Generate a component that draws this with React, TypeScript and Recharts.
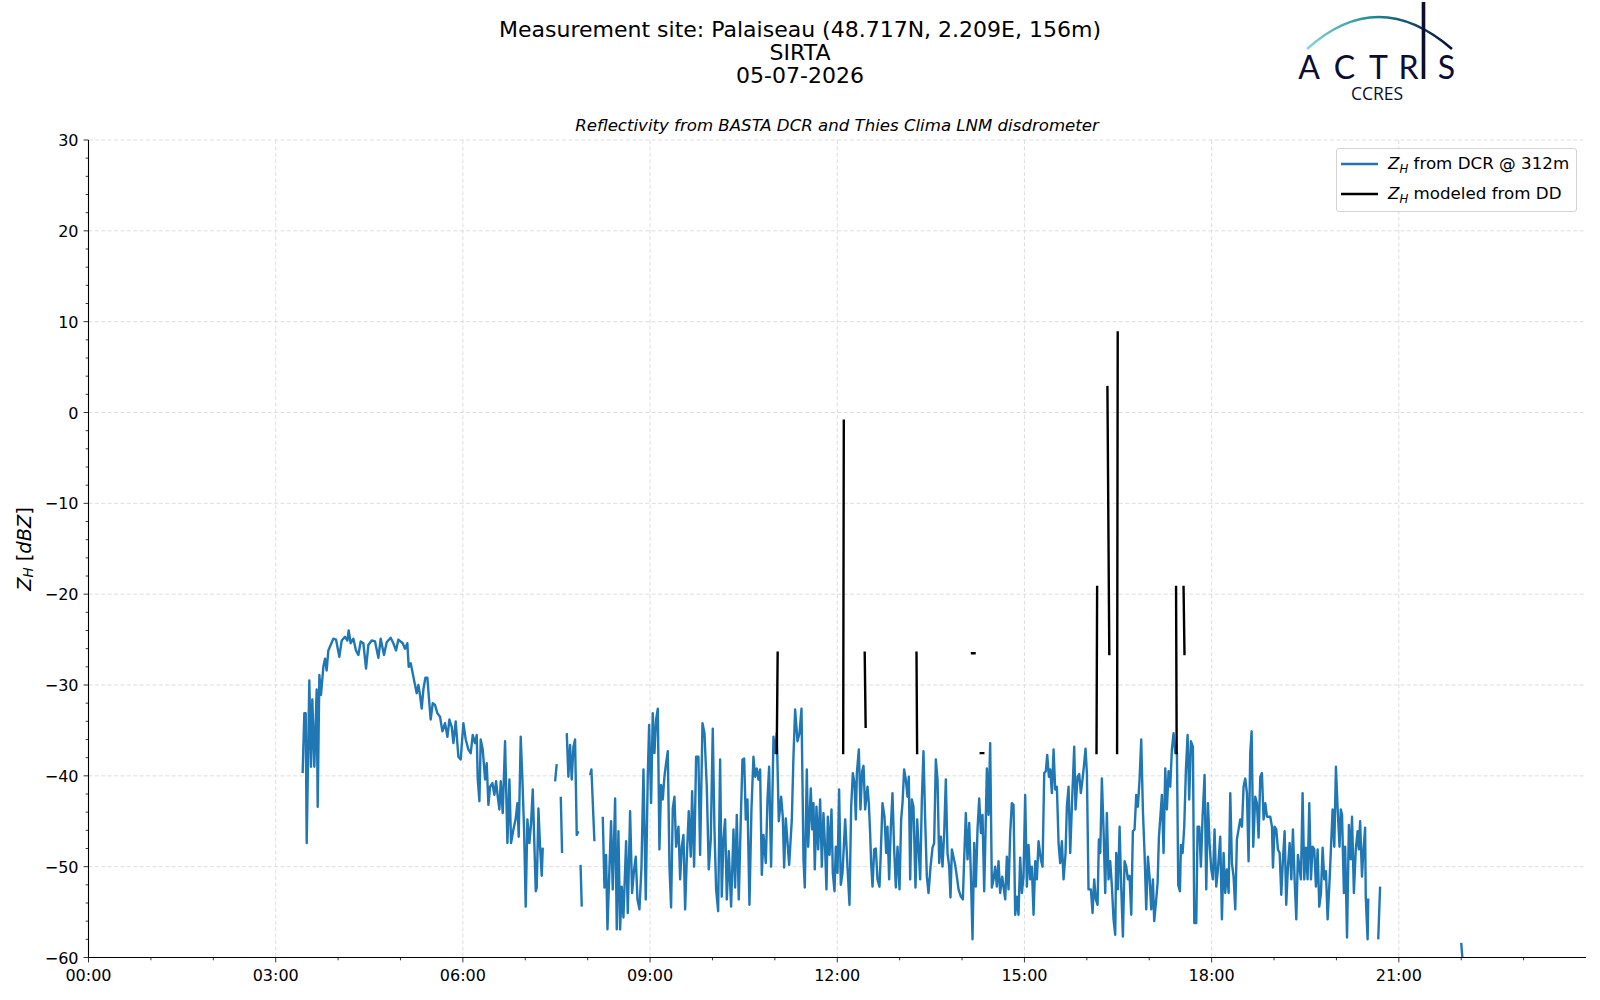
import React from "react";
import { LineChart, Line, XAxis, YAxis, CartesianGrid, Legend } from "recharts";

const FONT = "'DejaVu Sans', sans-serif";
const BLUE = "#1f77b4";
const NAVY = "#0b0d33";

const titleLines = ["Measurement site: Palaiseau (48.717N, 2.209E, 156m)", "SIRTA", "05-07-2026"];
const subtitle = "Reflectivity from BASTA DCR and Thies Clima LNM disdrometer";

const xMajorTicks = [0, 3, 6, 9, 12, 15, 18, 21];
const xTickLabels = ["00:00", "03:00", "06:00", "09:00", "12:00", "15:00", "18:00", "21:00"];
const xMinorTicks = [1, 2, 4, 5, 7, 8, 10, 11, 13, 14, 16, 17, 19, 20, 22, 23];
const yMajorTicks = [-60, -50, -40, -30, -20, -10, 0, 10, 20, 30];
const yMinorTicks = [
  -58, -56, -54, -52, -48, -46, -44, -42, -38, -36, -34, -32, -28, -26, -24, -22, -18, -16,
  -14, -12, -8, -6, -4, -2, 2, 4, 6, 8, 12, 14, 16, 18, 22, 24, 26, 28,
];

const legendLabels = ["from DCR @ 312m", "modeled from DD"];
const legendColors = [BLUE, "#000000"];

// BASTA cloud radar, 312 m gate (hours UTC, dBZ); null = no data
const dcrHour = [
  3.432, 3.459, 3.481, 3.497, 3.539, 3.566, 3.587, 3.619, 3.657, 3.673,
  3.7, 3.726, 3.764, 3.791, 3.817, 3.844, 3.881, 3.924, 3.967, 4.02,
  4.058, 4.111, 4.149, 4.17, 4.202, 4.245, 4.287, 4.325, 4.362, 4.405,
  4.448, 4.485, 4.539, 4.592, 4.646, 4.683, 4.736, 4.779, 4.843, 4.886,
  4.929, 4.966, 5.036, 5.073, 5.11, 5.132, 5.164, 5.196, 5.233, 5.26,
  5.287, 5.313, 5.34, 5.367, 5.399, 5.431, 5.458, 5.484, 5.517, 5.554,
  5.591, 5.634, 5.672, 5.714, 5.752, 5.784, 5.821, 5.848, 5.885, 5.928,
  5.965, 6.008, 6.046, 6.088, 6.126, 6.158, 6.195, 6.222, 6.238, 6.265,
  6.286, 6.318, 6.356, 6.382, 6.409, 6.436, 6.473, 6.505, 6.532, 6.559,
  6.585, 6.607, 6.639, 6.676, 6.714, 6.746, 6.772, 6.81, 6.847, 6.874,
  6.895, 6.927, 6.954, 6.981, 7.007, 7.034, 7.066, 7.093, 7.12, 7.168,
  7.184, 7.211, 7.237, 7.264, 7.28, 7.38, 7.478, 7.504, 7.54, 7.569,
  7.59, 7.63, 7.665, 7.691, 7.718, 7.745, 7.772, 7.798, 7.825, 7.852,
  7.87, 7.886, 7.905, 7.95, 8.039, 8.06, 8.108, 8.17, 8.242, 8.269,
  8.295, 8.317, 8.343, 8.375, 8.402, 8.44, 8.466, 8.493, 8.52, 8.546,
  8.573, 8.616, 8.643, 8.68, 8.712, 8.744, 8.771, 8.798, 8.83, 8.862,
  8.894, 8.931, 8.963, 8.985, 9.017, 9.043, 9.07, 9.097, 9.124, 9.15,
  9.177, 9.204, 9.23, 9.257, 9.284, 9.311, 9.337, 9.364, 9.391, 9.417,
  9.455, 9.482, 9.508, 9.535, 9.562, 9.588, 9.62, 9.652, 9.674, 9.706,
  9.738, 9.775, 9.802, 9.84, 9.872, 9.909, 9.941, 9.973, 10.005, 10.032,
  10.059, 10.091, 10.123, 10.149, 10.176, 10.203, 10.23, 10.262, 10.299, 10.337,
  10.363, 10.39, 10.422, 10.454, 10.481, 10.508, 10.534, 10.561, 10.593, 10.625,
  10.657, 10.684, 10.711, 10.737, 10.764, 10.791, 10.818, 10.855, 10.882, 10.908,
  10.94, 10.978, 11.004, 11.031, 11.063, 11.101, 11.127, 11.149, 11.175, 11.229,
  11.272, 11.298, 11.325, 11.363, 11.395, 11.427, 11.459, 11.48, 11.512, 11.534,
  11.576, 11.598, 11.619, 11.64, 11.667, 11.694, 11.726, 11.753, 11.779, 11.806,
  11.827, 11.849, 11.876, 11.908, 11.929, 11.956, 11.977, 12.004, 12.03, 12.057,
  12.084, 12.127, 12.164, 12.196, 12.223, 12.25, 12.276, 12.298, 12.314, 12.346,
  12.372, 12.399, 12.421, 12.447, 12.485, 12.506, 12.527, 12.543, 12.565, 12.592,
  12.618, 12.645, 12.677, 12.698, 12.725, 12.757, 12.784, 12.805, 12.832, 12.859,
  12.885, 12.912, 12.939, 12.966, 12.998, 13.024, 13.046, 13.072, 13.099, 13.126,
  13.147, 13.169, 13.195, 13.222, 13.254, 13.281, 13.329, 13.356, 13.382, 13.409,
  13.436, 13.463, 13.495, 13.527, 13.553, 13.58, 13.607, 13.634, 13.66, 13.687,
  13.714, 13.74, 13.767, 13.794, 13.815, 13.837, 13.89, 13.917, 13.944, 13.981,
  14.013, 14.034, 14.061, 14.088, 14.115, 14.141, 14.168, 14.195, 14.221, 14.248,
  14.275, 14.302, 14.328, 14.355, 14.376, 14.398, 14.424, 14.451, 14.478, 14.505,
  14.531, 14.558, 14.585, 14.611, 14.644, 14.692, 14.718, 14.745, 14.772, 14.798,
  14.825, 14.852, 14.879, 14.905, 14.932, 14.959, 14.985, 15.012, 15.039, 15.066,
  15.092, 15.119, 15.146, 15.173, 15.199, 15.226, 15.263, 15.29, 15.317, 15.343,
  15.365, 15.392, 15.413, 15.44, 15.467, 15.493, 15.52, 15.547, 15.573, 15.6,
  15.627, 15.659, 15.68, 15.707, 15.734, 15.76, 15.798, 15.819, 15.851, 15.878,
  15.904, 15.931, 15.958, 15.979, 16.001, 16.027, 16.065, 16.092, 16.118, 16.145,
  16.172, 16.193, 16.215, 16.241, 16.268, 16.295, 16.321, 16.348, 16.375, 16.402,
  16.428, 16.455, 16.471, 16.498, 16.525, 16.551, 16.578, 16.605, 16.631, 16.658,
  16.685, 16.712, 16.738, 16.765, 16.792, 16.818, 16.845, 16.872, 16.899, 16.925,
  16.952, 16.979, 17.005, 17.032, 17.059, 17.08, 17.107, 17.134, 17.155, 17.203,
  17.23, 17.257, 17.283, 17.31, 17.337, 17.363, 17.39, 17.417, 17.444, 17.465,
  17.492, 17.508, 17.535, 17.561, 17.588, 17.615, 17.641, 17.668, 17.7, 17.722,
  17.754, 17.775, 17.802, 17.828, 17.855, 17.887, 17.914, 17.941, 17.967, 17.994,
  18.021, 18.047, 18.074, 18.101, 18.138, 18.165, 18.192, 18.218, 18.245, 18.272,
  18.299, 18.325, 18.352, 18.379, 18.405, 18.432, 18.459, 18.486, 18.512, 18.539,
  18.566, 18.592, 18.619, 18.641, 18.667, 18.699, 18.726, 18.753, 18.78, 18.806,
  18.833, 18.86, 18.886, 18.94, 18.967, 18.983, 19.009, 19.036, 19.063, 19.09,
  19.116, 19.143, 19.17, 19.196, 19.223, 19.25, 19.277, 19.303, 19.33, 19.357,
  19.383, 19.431, 19.458, 19.485, 19.512, 19.538, 19.565, 19.592, 19.618, 19.645,
  19.672, 19.699, 19.725, 19.752, 19.779, 19.805, 19.832, 19.859, 19.891, 19.939,
  19.966, 19.992, 20.02, 20.05, 20.07, 20.09, 20.12, 20.14, 20.17, 20.2,
  20.23, 20.25, 20.28, 20.31, 20.34, 20.36, 20.38, 20.41, 20.43, 20.46,
  20.47, 20.5, 20.51, 20.59, 20.67, 20.7, 21.3, 22.0, 22.03,
];

const dcrZh = [
  -39.7, -33.1, -33.1, -47.4, -29.5, -39, -31.6, -39, -30.5, -43.4,
  -28.9, -31.1, -28, -27.1, -28.4, -26.2, -25.6, -24.9, -25, -26.9,
  -25.1, -24.7, -25.1, -24, -25.4, -24.9, -26.2, -26.7, -25.2, -25.4,
  -28.2, -25.6, -25.1, -25.2, -27, -24.9, -26.7, -25.3, -24.8, -25.4,
  -26.2, -25, -25.4, -26, -25.4, -28, -27.6, -28.7, -30, -30.9,
  -30, -31.1, -32.6, -30.5, -29.2, -29.2, -31.6, -33.8, -32, -32.2,
  -33.1, -33.5, -35.1, -34.2, -35.7, -33.8, -34.6, -36.4, -34, -37.9,
  -38.2, -34.2, -36, -37.1, -37.5, -35.5, -36.4, -35.5, -40.3, -42.8,
  -36, -37.1, -40.4, -38.6, -43.2, -41.2, -40.8, -42.1, -40.6, -42.3,
  -43.7, -40.6, -44.1, -36.2, -47.4, -40.4, -47.4, -45.9, -44.7, -43,
  -46.7, -35.7, -40.4, -45.9, -54.4, -44.8, -47.4, -45.2, -41.5, -52.7,
  -52.3, -43.6, -47.8, -51, -47.9, null, -40.6, -38.7, null, -42.3,
  -48.5, null, -35.3, -40.1, -36.6, -40.4, -36.8, -36, -46.5, -46.1,
  null, -49.8, -54.4, null, -39.9, -39.3, -47.2, null, -44.5, -52.3,
  -48.7, -56.9, -51.4, -45, -52.5, -42.5, -56.9, -46.1, -56.9, -52.2,
  -55.6, -47.2, -55.1, -43.9, -52.9, -50.3, -48.9, -53.6, -54.7, -50.1,
  -39.3, -53.6, -40.1, -34.4, -43, -33.1, -37.5, -33.8, -32.6, -48.1,
  -41, -42.6, -40.1, -38.6, -37.3, -50, -54.5, -43.6, -42.3, -47.8,
  -45.6, -51.4, -47.8, -46.5, -54.7, -49.2, -43.9, -48.9, -41.7, -50,
  -37.9, -37.9, -48.7, -34.2, -35.3, -41.2, -50.3, -47, -34.8, -45.9,
  -52.5, -54.9, -38.2, -53.3, -47, -44.8, -53.6, -48.3, -54.4, -45.9,
  -52.3, -44.3, -53.6, -44.8, -38.2, -38.1, -44.8, -42.6, -54.2, -43.7,
  -37.9, -40.1, -39.2, -40.4, -39.3, -50.9, -46.5, -49.6, -42.6, -39,
  -50, -35.7, -37.5, -35.3, -45, -42.3, -44.5, -50.1, -44.7, -49.8,
  -44.8, -37.9, -32.7, -36.2, -35.3, -32.6, -49.2, -52.3, -39.3, -47.8,
  -41.4, -45.9, -43, -50.3, -43.4, -48.1, -42.6, -50, -44.1, -48.1,
  -52.5, -44.5, -48.7, -43.7, -50.7, -52.7, -47.8, -50.7, -41.5, -52,
  -50.7, -44.8, -50, -54.2, -43.4, -39.7, -40.8, -44.8, -39.7, -37.1,
  -43.7, -39.5, -38.9, -43.7, -41.2, -43, -46.3, -49.6, -52.2, -48.1,
  -48, -51.4, -52.2, -48.5, -43, -44.5, -48.5, -45.6, -51.4, -45.6,
  -41.9, -48.1, -52.3, -47.8, -52.5, -44.8, -43, -39.3, -40.4, -42.3,
  -40.1, -51.4, -42.6, -43.4, -52.3, -44.8, -51.4, -42.6, -37.3, -44.8,
  -51.1, -52.9, -50, -47.9, -47.4, -38.2, -40.4, -49.6, -46.7, -50,
  -46.3, -40.4, -48.5, -50, -53.4, -48.1, -49.8, -51.1, -52.5, -53.3,
  -53.6, -49.2, -44.1, -49.2, -45.2, -50.7, -58, -47.4, -52.2, -45.9,
  -42.5, -46.3, -44.3, -52.7, -46.3, -39.2, -44.3, -36.4, -52.3, -51.4,
  -50, -52.2, -49.4, -52.9, -51.1, -53.6, -48.9, -52.5, -46.3, -43,
  -43.2, -55.3, -53.3, -55.3, -49, -52.9, -51.1, -42.1, -52.2, -47.6,
  -51.4, -50, -55.3, -49.4, -51.4, -47.2, -49.2, -50, -39.7, -39.5,
  -37.7, -40.1, -39.3, -41.9, -37.1, -41.5, -41.2, -47.4, -49.6, -47.2,
  -51.4, -48.5, -43.4, -41.2, -48.5, -43.4, -36.8, -43.7, -40.1, -39.8,
  -41.9, -40.4, -38.6, -37, -39.7, -52.5, -52.5, -55.1, -51.4, -53.6,
  -54.2, -47, -48.5, -40.3, -45.9, -52.9, -44.1, -51.4, -49.4, -52.2,
  -55.8, -57.5, -48.5, -52.5, -45.6, -52.2, -57.7, -49.4, -50, -51.4,
  -51, -55.3, -46.1, -45.9, -42.1, -43.4, -40.4, -36, -43.9, -48.5,
  -54.7, -48.9, -51.1, -54.7, -51.4, -56, -54, -51.8, -46.8, -42.1,
  -48.5, -39.2, -43.7, -39.5, -41.2, -37.1, -35.3, -37.5, -37.5, -52,
  -52.7, -47.6, -48.5, -45.6, -39.3, -35.5, -42.6, -36.2, -36.8, -56.2,
  -56.2, -45.6, -45.6, -50, -44.5, -39.9, -52.5, -43, -47.4, -50.3,
  -51.4, -45.9, -52.2, -50.3, -46.7, -55.8, -48.5, -52.9, -50.3, -52.9,
  -41.9, -49.6, -51.1, -54.7, -47, -45.9, -44.8, -45.6, -41.2, -40.3,
  -41.9, -49.4, -37.5, -35.1, -47.8, -42.3, -43, -46.8, -40.1, -39.7,
  -44.8, -43, -44.5, -44.5, -45.6, -50.1, -45.6, -45.9, -48.1, -48.5,
  -53.1, -49.2, -46.1, -54.2, -50, -47.4, -51.4, -45.9, -51.4, -55.8,
  -48.7, -51.4, -41.9, -51.4, -47.9, -51.4, -43, -51.4, -47.8, -48.1,
  -52.2, -48.1, -54.4, -52.9, -47.9, -51.4, -50.5, -55.8, -51.4, -43.7,
  -47.8, -39, -43.7, -47.8, -43.7, -44.3, -52.9, -47.8, -57.8, -45.4,
  -49.2, -44.5, -52.9, -48.1, -46.1, -48.1, -45, -51.1, -48.5, -45.7,
  -53.3, -58, -53.5, null, -58, -52.2, null, -58.4, -61,
];

// Thies LNM disdrometer, modeled reflectivity (hours UTC, dBZ)
const ddHour = [
  11.03, 11.045, 11.5, 12.095, 12.105, 12.3, 12.44, 12.455, 12.9, 13.27,
  13.28, 13.7, 14.16, 14.2, 14.25, 14.3, 14.34, 15.2, 16.155, 16.165,
  16.25, 16.33, 16.36, 16.42, 16.485, 16.495, 17.0, 17.43, 17.44, 17.5,
  17.55, 17.565,
];
const ddZh = [
  -37.5, -26.45, null, -37.5, -0.9, null, -26.45, -34.6, null, -26.45,
  -37.5, null, -26.5, -26.5, null, -37.5, -37.5, null, -37.5, -19.2,
  null, 2.8, -26.6, null, -37.5, 8.8, null, -19.2, -37.5, null,
  -19.2, -26.6,
];

const dcrData = dcrHour.map((hour, i) => ({ hour, zh: dcrZh[i] }));
const ddData = ddHour.map((hour, i) => ({ hour, zh: ddZh[i] }));

const logoLetters = ["A", "C", "T", "R", "S"];
const logoLetterX = [1309, 1344.5, 1378.5, 1408.5, 1446.5];

const fmtY = (v: number) => (v < 0 ? `\u2212${Math.abs(v)}` : `${v}`);

function XTick(props: any) {
  const { x, y, payload } = props;
  const i = xMajorTicks.indexOf(payload.value);
  return (
    <g>
      <line x1={x} x2={x} y1={y} y2={y + (i >= 0 ? 4.9 : 2.8)} stroke="#000" strokeWidth={0.8} />
      {i >= 0 && (
        <text x={x} y={y + 23.5} textAnchor="middle" fontSize={16} fontFamily={FONT} fill="#000">
          {xTickLabels[i]}
        </text>
      )}
    </g>
  );
}

function YTick(props: any) {
  const { x, y, payload } = props;
  const major = yMajorTicks.includes(payload.value);
  return (
    <g>
      <line x1={x} x2={x - (major ? 4.9 : 2.8)} y1={y} y2={y} stroke="#000" strokeWidth={0.8} />
      {major && (
        <text x={x - 10} y={y + 6} textAnchor="end" fontSize={16} fontFamily={FONT} fill="#000">
          {fmtY(payload.value)}
        </text>
      )}
    </g>
  );
}

function LegendBox() {
  return (
    <div
      style={{
        position: "relative",
        width: 241,
        height: 64,
        boxSizing: "border-box",
        border: "1px solid #d3d3d3",
        borderRadius: 3,
        background: "rgba(255,255,255,0.8)",
        fontFamily: FONT,
        fontSize: 16.7,
        color: "#000",
      }}
    >
      {legendLabels.map((label, i) => (
        <div
          key={label}
          style={{ position: "absolute", left: 0, top: (i === 0 ? 15 : 44.5) - 11, height: 22, display: "flex", alignItems: "center", whiteSpace: "nowrap" }}
        >
          <svg width={46} height={22} style={{ display: "block" }}>
            <line x1={4} x2={41} y1={11} y2={11} stroke={legendColors[i]} strokeWidth={2.4} />
          </svg>
          <span style={{ marginLeft: 5, lineHeight: "22px" }}>
            <span style={{ fontStyle: "italic" }}>Z</span>
            <span style={{ fontStyle: "italic", fontSize: "70%", position: "relative", top: 4 }}>H</span>
            {" " + label}
          </span>
        </div>
      ))}
    </div>
  );
}

function Overlay() {
  return (
    <svg width={1600} height={1000} style={{ position: "absolute", left: 0, top: 0, pointerEvents: "none" }}>
      <defs>
        <linearGradient id="actrisArc" x1="0" x2="1" y1="0" y2="0">
          <stop offset="0%" stopColor="#8fd6d2" />
          <stop offset="45%" stopColor="#1d8a98" />
          <stop offset="100%" stopColor={NAVY} />
        </linearGradient>
      </defs>
      {titleLines.map((line, i) => (
        <text key={line} x={800} y={36.5 + i * 23} textAnchor="middle" fontSize={22} fontFamily={FONT} fill="#000">
          {line}
        </text>
      ))}
      <text x={837} y={131} textAnchor="middle" fontSize={16.6} fontStyle="italic" fontFamily={FONT} fill="#000">
        {subtitle}
      </text>
      <text transform="translate(24,549) rotate(-90)" textAnchor="middle" dominantBaseline="central" fontSize={19.4} fontFamily={FONT} fill="#000">
        <tspan fontStyle="italic">Z</tspan>
        <tspan fontStyle="italic" fontSize={13.5} dy={4}>H</tspan>
        <tspan dy={-4}> [</tspan>
        <tspan fontStyle="italic">dBZ</tspan>
        <tspan>]</tspan>
      </text>
      {/* ACTRIS / CCRES logo */}
      <path d="M1307 49 Q1378 -15 1452 49" fill="none" stroke="url(#actrisArc)" strokeWidth={2.6} />
      <line x1={1423.5} x2={1423.5} y1={2} y2={79} stroke={NAVY} strokeWidth={3.6} />
      {logoLetters.map((ch, i) => (
        <text key={ch} x={logoLetterX[i]} y={79} textAnchor="middle" fontSize={32} fontFamily="Lato, sans-serif" fill={NAVY}>
          {ch}
        </text>
      ))}
      <text x={1377} y={100} textAnchor="middle" fontSize={17.5} fontFamily="'Open Sans', sans-serif" fill={NAVY}>
        CCRES
      </text>
    </svg>
  );
}

export default function App() {
  return (
    <div style={{ position: "absolute", left: 0, top: 0, width: 1600, height: 1000, background: "#fff" }}>
      <LineChart width={1600} height={1000} margin={{ top: 140, right: 14, left: 28.5, bottom: 12.5 }}>
        <CartesianGrid
          stroke="#d6d6d6"
          strokeDasharray="4 2.4"
          strokeWidth={0.8}
          horizontalValues={yMajorTicks}
          verticalValues={xMajorTicks}
        />
        <XAxis
          dataKey="hour"
          type="number"
          domain={[0, 24]}
          allowDataOverflow
          ticks={[...xMajorTicks, ...xMinorTicks].sort((a, b) => a - b)}
          interval={0}
          tickSize={0}
          tickMargin={0}
          tickLine={false}
          tick={<XTick />}
          axisLine={{ stroke: "#000", strokeWidth: 1.1 }}
          height={30}
        />
        <XAxis xAxisId="top" orientation="top" type="number" domain={[0, 24]} height={0} tick={false} tickLine={false} axisLine={{ stroke: "#000", strokeWidth: 1.1 }} />
        <YAxis
          type="number"
          domain={[-60, 30]}
          allowDataOverflow
          ticks={[...yMajorTicks, ...yMinorTicks].sort((a, b) => a - b)}
          interval={0}
          tickSize={0}
          tickMargin={0}
          tickLine={false}
          tick={<YTick />}
          axisLine={{ stroke: "#000", strokeWidth: 1.1 }}
          width={60}
        />
        <YAxis yAxisId="right" orientation="right" type="number" domain={[-60, 30]} width={0} tick={false} tickLine={false} axisLine={{ stroke: "#000", strokeWidth: 1.1 }} />
        <Legend
          layout="vertical"
          align="center"
          verticalAlign="middle"
          width={241}
          wrapperStyle={{ left: 1336, top: 148 }}
          content={() => <LegendBox />}
        />
        <Line
          data={dcrData}
          dataKey="zh"
          name="ZH from DCR @ 312m"
          type="linear"
          stroke={BLUE}
          strokeWidth={2.4}
          strokeLinejoin="round"
          dot={false}
          activeDot={false}
          connectNulls={false}
          isAnimationActive={false}
        />
        <Line
          data={ddData}
          dataKey="zh"
          name="ZH modeled from DD"
          type="linear"
          stroke="#000000"
          strokeWidth={2.4}
          strokeLinecap="square"
          dot={false}
          activeDot={false}
          connectNulls={false}
          isAnimationActive={false}
        />
      </LineChart>
      <Overlay />
    </div>
  );
}
